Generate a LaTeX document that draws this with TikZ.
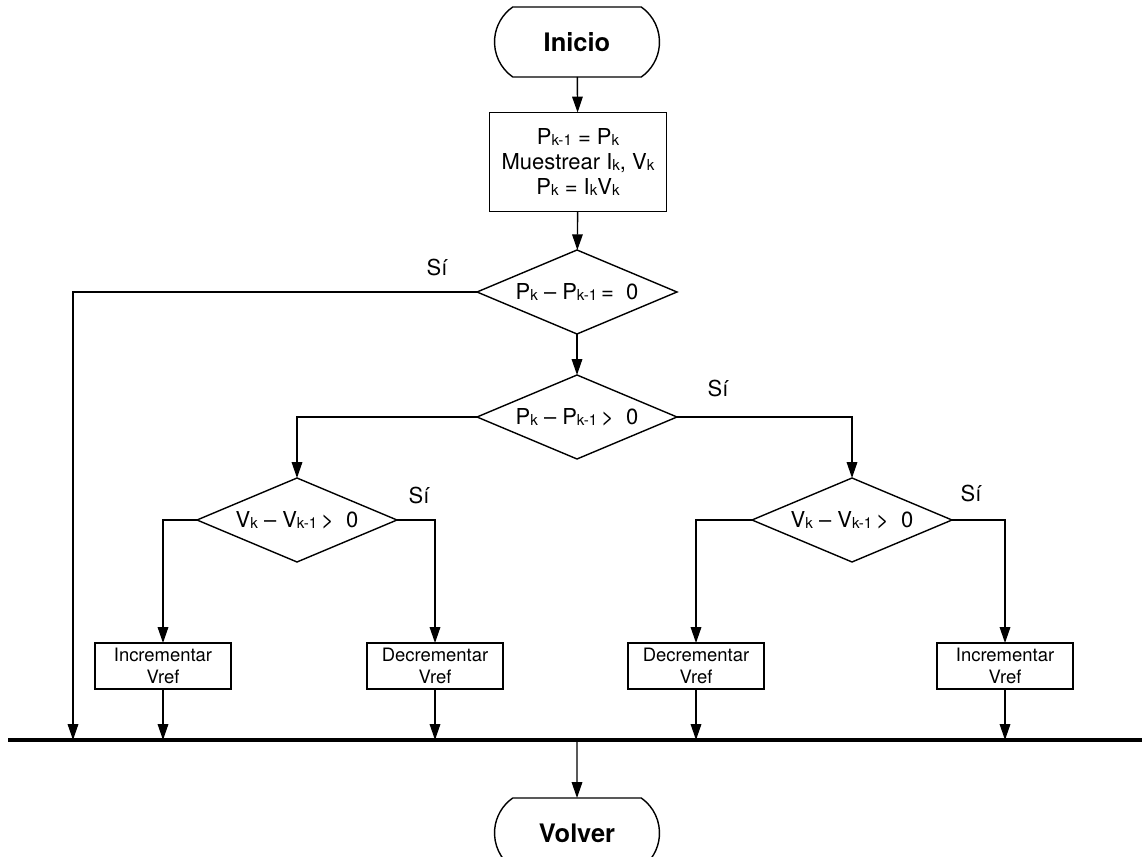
\documentclass[tikz,border=0pt]{standalone}
\usepackage{fontspec}
\setmainfont{TeX Gyre Heros}
\usetikzlibrary{shapes.geometric,shapes.misc,arrows.meta}
% small lowered index letters, as in P_k
\newcommand\lo[1]{\raisebox{-0.6pt}{\fontsize{8.6}{9}\selectfont #1}}
\begin{document}
\begin{tikzpicture}[x=0.02cm,y=-0.02cm,
  line width=0.8pt,
  every node/.style={inner sep=0pt, outer sep=0pt},
  term/.style={draw, rounded rectangle, rounded rectangle arc length=110,
    minimum width=3.3cm, minimum height=1.4cm,
    font=\fontsize{14.5}{16}\selectfont\bfseries},
  proc/.style={draw, rectangle, minimum width=3.54cm, minimum height=1.98cm,
    align=center, font=\fontsize{12.5}{14}\selectfont},
  dec/.style={draw, diamond, aspect=2.38, minimum width=4cm, minimum height=1.68cm,
    font=\fontsize{12.5}{14}\selectfont},
  act/.style={draw, rectangle, minimum width=2.72cm, minimum height=0.92cm,
    align=center, font=\fontsize{10.5}{12.5}\selectfont},
  lbl/.style={font=\fontsize{12.5}{14}\selectfont},
  arr/.style={-{Triangle[length=9pt,width=6pt]}},
]
\useasboundingbox (0,0) rectangle (1142,857);
\clip (0,0) rectangle (1142,857);

% terminals, process and decisions
\node[term] (inicio) at (577,42) {Inicio};
\node[proc] (proc) at (578,162) {P\lo{k-1} = P\lo{k}\\Muestrear I\lo{k}, V\lo{k}\\P\lo{k} = I\lo{k}V\lo{k}};
\node[dec] (d1) at (577,292) {P\lo{k} -- P\lo{k-1}\,=\ \ 0};
\node[dec] (d2) at (577,417) {P\lo{k} -- P\lo{k-1}\,>\ \ 0};
\node[dec] (d3) at (297,520) {V\lo{k} -- V\lo{k-1}\,>\ \ 0};
\node[dec] (d4) at (852,520) {V\lo{k} -- V\lo{k-1}\,>\ \ 0};

% actions
\node[act] (incL) at (163,666) {Incrementar\\Vref};
\node[act] (decL) at (435,666) {Decrementar\\Vref};
\node[act] (decR) at (696,666) {Decrementar\\Vref};
\node[act] (incR) at (1005,666) {Incrementar\\Vref};

\node[term] (volver) at (577,833) {Volver};

% branch labels
\node[lbl] (s1) at (437,268) {Sí};
\node[lbl] (s2) at (718,388) {Sí};
\node[lbl] (s3) at (419,495) {Sí};
\node[lbl] (s4) at (971,493) {Sí};

% collector bar
\coordinate (barL) at (8,740);
\coordinate (barR) at (1142,740);
\coordinate (bar) at (577,740);
\coordinate (j1) at (73,740);

% connectors
\draw[arr] (inicio) -- (proc);
\draw[arr] (proc) -- (d1);
\draw[arr] (d1.west) -| (j1);
\draw[arr] (d1) -- (d2);
\draw[arr] (d2.west) -| (d3.north);
\draw[arr] (d2.east) -| (d4.north);
\draw[arr] (d3.west) -| (incL.north);
\draw[arr] (d3.east) -| (decL.north);
\draw[arr] (d4.west) -| (decR.north);
\draw[arr] (d4.east) -| (incR.north);
\draw[arr] (incL) -- (incL |- bar);
\draw[arr] (decL) -- (decL |- bar);
\draw[arr] (decR) -- (decR |- bar);
\draw[arr] (incR) -- (incR |- bar);
\draw[line width=2.3pt] (barL) -- (barR);
\draw[arr] (bar) -- (volver);
\end{tikzpicture}
\end{document}
